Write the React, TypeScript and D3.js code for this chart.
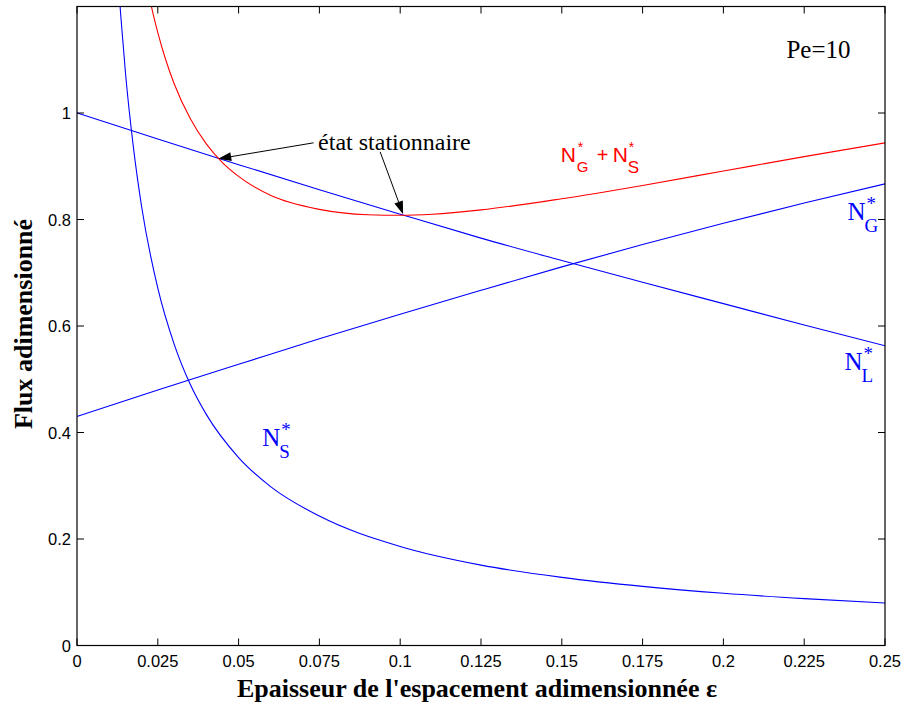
import React from "react";
import * as d3 from "d3";

// ---- data ----
const xTicks = [0, 0.025, 0.05, 0.075, 0.1, 0.125, 0.15, 0.175, 0.2, 0.225, 0.25];
const xTickLabels = ["0", "0.025", "0.05", "0.075", "0.1", "0.125", "0.15", "0.175", "0.2", "0.225", "0.25"];
const yTicks = [0, 0.2, 0.4, 0.6, 0.8, 1];
const yTickLabels = ["0", "0.2", "0.4", "0.6", "0.8", "1"];

// N_L* and N_G*
const epsLG = [0, 0.025, 0.05, 0.075, 0.1, 0.125, 0.15, 0.175, 0.2, 0.225, 0.25];
const nL = [1.0, 0.951, 0.903, 0.856, 0.81, 0.765, 0.723, 0.682, 0.642, 0.602, 0.563];
const nG = [0.43, 0.48, 0.528, 0.576, 0.622, 0.667, 0.711, 0.753, 0.793, 0.831, 0.867];

// N_S*
const epsS = [0.0125, 0.0135, 0.015, 0.0175, 0.02, 0.025, 0.03, 0.035, 0.04, 0.05, 0.06, 0.075, 0.1, 0.125, 0.15, 0.175, 0.2, 0.225, 0.25];
const nS = [1.273, 1.186, 1.075, 0.933, 0.824, 0.671, 0.567, 0.491, 0.434, 0.353, 0.298, 0.243, 0.186, 0.151, 0.128, 0.111, 0.098, 0.088, 0.0797];

// N_G* + N_S*
const epsT = [0.022, 0.0234, 0.025, 0.0275, 0.03, 0.035, 0.04, 0.045, 0.05, 0.06, 0.075, 0.09, 0.1, 0.11, 0.125, 0.15, 0.175, 0.2, 0.225, 0.25];
const nT = [1.229, 1.19, 1.151, 1.099, 1.056, 0.99, 0.942, 0.907, 0.881, 0.845, 0.819, 0.809, 0.808, 0.81, 0.818, 0.839, 0.864, 0.891, 0.918, 0.944];

// annotations (data coordinates)
const peLabel = { x: 0.2195, y: 1.103, text: "Pe=10" };
const statLabel = { x: 0.0746, y: 0.931, text: "état stationnaire" };
const arrows = [
  { from: [0.0732, 0.944], to: [0.0437, 0.914] },
  { from: [0.0938, 0.927], to: [0.1009, 0.81] },
];

const W = 906;
const H = 704;
const M = { left: 77, right: 885, top: 6.5, bottom: 645.5 };

const x = d3.scaleLinear().domain([0, 0.25]).range([M.left, M.right]);
const y = d3.scaleLinear().domain([0, 1.2]).range([M.bottom, M.top]);

const lineGen = d3
  .line<[number, number]>()
  .x((d) => x(d[0]))
  .y((d) => y(d[1]))
  .curve(d3.curveMonotoneX);

const zip = (a: number[], b: number[]) => a.map((v, i) => [v, b[i]] as [number, number]);

const serif = "'Liberation Serif', 'Times New Roman', Times, serif";
const sans = "'Liberation Sans', Arial, Helvetica, sans-serif";

function Arrow({ from, to }: { from: number[]; to: number[] }) {
  const x1 = x(from[0]), y1 = y(from[1]);
  const x2 = x(to[0]), y2 = y(to[1]);
  const ang = Math.atan2(y2 - y1, x2 - x1);
  const len = 13, half = 4.5;
  const bx = x2 - len * Math.cos(ang), by = y2 - len * Math.sin(ang);
  const px = -Math.sin(ang) * half, py = Math.cos(ang) * half;
  return (
    <g>
      <line x1={x1} y1={y1} x2={bx} y2={by} stroke="#000" strokeWidth={1} />
      <path d={`M${x2},${y2}L${bx + px},${by + py}L${bx - px},${by - py}Z`} fill="#000" />
    </g>
  );
}

function SerifLabel({ ax, ay, sub, color }: { ax: number; ay: number; sub: string; color: string }) {
  const px = x(ax), py = y(ay);
  return (
    <g fill={color} fontFamily={serif}>
      <text x={px} y={py} fontSize={25}>N</text>
      <text x={px + 17} y={py + 12} fontSize={19}>{sub}</text>
      <text x={px + 19} y={py - 10} fontSize={19}>*</text>
    </g>
  );
}

export default function App() {
  const tickLen = 7;
  return (
    <svg
      width={W}
      height={H}
      style={{ position: "absolute", left: 0, top: 0, background: "#fff" }}
      xmlns="http://www.w3.org/2000/svg"
    >
      <rect x={0} y={0} width={W} height={H} fill="#fff" />
      <defs>
        <clipPath id="plotClip">
          <rect x={M.left} y={M.top} width={M.right - M.left} height={M.bottom - M.top} />
        </clipPath>
      </defs>

      {/* curves */}
      <g clipPath="url(#plotClip)" fill="none" strokeWidth={1.1}>
        <path d={lineGen(zip(epsLG, nL)) || ""} stroke="#0000ff" />
        <path d={lineGen(zip(epsLG, nG)) || ""} stroke="#0000ff" />
        <path d={lineGen(zip(epsS, nS)) || ""} stroke="#0000ff" />
        <path d={lineGen(zip(epsT, nT)) || ""} stroke="#ff0000" />
      </g>

      {/* frame */}
      <rect
        x={M.left}
        y={M.top}
        width={M.right - M.left}
        height={M.bottom - M.top}
        fill="none"
        stroke="#000"
        strokeWidth={1.2}
      />

      {/* ticks */}
      <g stroke="#000" strokeWidth={1}>
        {xTicks.map((t, i) => (
          <g key={"xt" + i}>
            <line x1={x(t)} x2={x(t)} y1={M.bottom} y2={M.bottom - tickLen} />
            <line x1={x(t)} x2={x(t)} y1={M.top} y2={M.top + tickLen} />
          </g>
        ))}
        {yTicks.map((t, i) => (
          <g key={"yt" + i}>
            <line x1={M.left} x2={M.left + tickLen} y1={y(t)} y2={y(t)} />
            <line x1={M.right} x2={M.right - tickLen} y1={y(t)} y2={y(t)} />
          </g>
        ))}
      </g>
      <g fontFamily={sans} fontSize={16.5} fill="#000">
        {xTicks.map((t, i) => (
          <text key={"xl" + i} x={x(t)} y={M.bottom + 21} textAnchor="middle">
            {xTickLabels[i]}
          </text>
        ))}
        {yTicks.map((t, i) => (
          <text key={"yl" + i} x={M.left - 6} y={y(t) + 6} textAnchor="end">
            {yTickLabels[i]}
          </text>
        ))}
      </g>

      {/* axis titles */}
      <text
        x={(M.left + M.right) / 2 - 4}
        y={697}
        textAnchor="middle"
        fontFamily={serif}
        fontWeight="bold"
        fontSize={26}
      >
        Epaisseur de l'espacement adimensionnée ε
      </text>
      <text
        transform={`translate(32, ${(M.top + M.bottom) / 2 - 2}) rotate(-90)`}
        textAnchor="middle"
        fontFamily={serif}
        fontWeight="bold"
        fontSize={26}
      >
        Flux adimensionné
      </text>

      {/* annotations */}
      <text x={x(peLabel.x)} y={y(peLabel.y)} fontFamily={serif} fontSize={25} fill="#000">
        {peLabel.text}
      </text>
      <text x={x(statLabel.x)} y={y(statLabel.y)} fontFamily={serif} fontSize={24} fill="#000">
        {statLabel.text}
      </text>
      {arrows.map((a, i) => (
        <Arrow key={"ar" + i} from={a.from} to={a.to} />
      ))}

      {/* curve labels */}
      <SerifLabel ax={0.2384} ay={0.8} sub="G" color="#0000ff" />
      <SerifLabel ax={0.2375} ay={0.518} sub="L" color="#0000ff" />
      <SerifLabel ax={0.0573} ay={0.374} sub="S" color="#0000ff" />

      {/* red label: N_G* + N_S* */}
      <g fill="#ff0000" fontFamily={sans}>
        <text x={x(0.1497)} y={y(0.908)} fontSize={21}>N</text>
        <text x={x(0.1497) + 16} y={y(0.908) + 10} fontSize={15}>G</text>
        <text x={x(0.1497) + 17} y={y(0.908) - 10} fontSize={14}>*</text>
        <text x={x(0.1497) + 36} y={y(0.908)} fontSize={20}>+</text>
        <text x={x(0.1497) + 52} y={y(0.908)} fontSize={21}>N</text>
        <text x={x(0.1497) + 67} y={y(0.908) + 11} fontSize={17}>S</text>
        <text x={x(0.1497) + 68} y={y(0.908) - 10} fontSize={14}>*</text>
      </g>
    </svg>
  );
}
